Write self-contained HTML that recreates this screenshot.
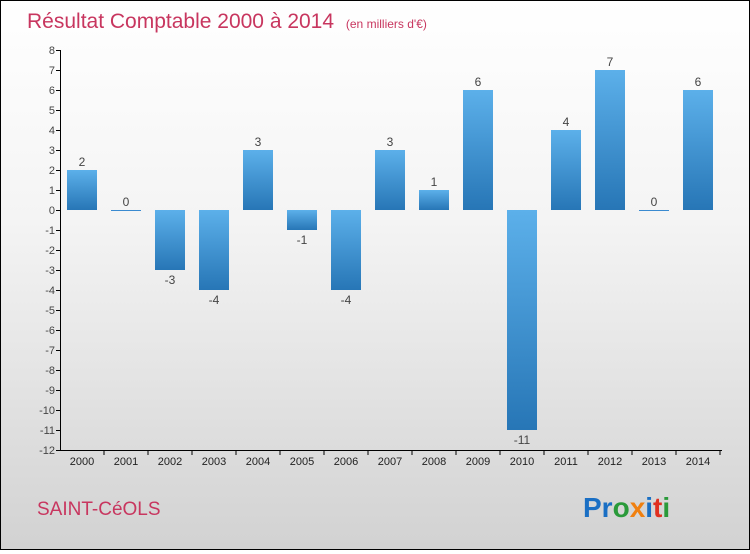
<!DOCTYPE html>
<html><head><meta charset="utf-8"><style>
body{margin:0}
#wrap{width:748px;height:548px;border:1px solid #000;background:linear-gradient(#fff 0%,#f4f4f4 40%,#d2d2d2 100%);position:relative;font-family:"Liberation Sans",sans-serif}
</style></head><body>
<div id="wrap">
<svg width="748" height="548">
<defs>
<linearGradient id="g" x1="0" y1="0" x2="0" y2="1"><stop offset="0" stop-color="#5cb0ea"/><stop offset="1" stop-color="#2776b6"/></linearGradient>
</defs>
<text x="26" y="27" font-size="21" fill="#c8365f">Résultat Comptable 2000 à 2014 <tspan font-size="12" dx="6">(en milliers d'€)</tspan></text>
<g id="axes"></g><g id="bars"></g>
<text x="36" y="514" font-size="19" fill="#c8365f">SAINT-CéOLS</text>
<text x="582" y="516" font-size="28" font-weight="bold"><tspan fill="#1a6fc4">Pr</tspan><tspan fill="#2a9a3a">o</tspan><tspan fill="#f08010">x</tspan><tspan fill="#1a6fc4">i</tspan><tspan fill="#e03020">t</tspan><tspan fill="#2a9a3a">i</tspan></text>
</svg></div>
<script>
const years=["2000","2001","2002","2003","2004","2005","2006","2007","2008","2009","2010","2011","2012","2013","2014"];
const values=[2,0,-3,-4,3,-1,-4,3,1,6,-11,4,7,0,6];
const yTicks=[8,7,6,5,4,3,2,1,0,-1,-2,-3,-4,-5,-6,-7,-8,-9,-10,-11,-12];
const NS="http://www.w3.org/2000/svg";
const y=v=>209-(v)*20;
const x=i=>81+i*44;
function mk(t,a,p){const e=document.createElementNS(NS,t);for(const k in a)e.setAttribute(k,a[k]);p.appendChild(e);return e;}
const ax=document.getElementById('axes'),bg=document.getElementById('bars');
const yl=mk('line',{x1:59.5,x2:59.5,y1:y(8),y2:y(-12),stroke:'#000'},ax);


const xl=mk('line',{x1:59.5,x2:721,y1:y(-12)+0.5,y2:y(-12)+0.5,stroke:'#000'},ax);


yTicks.forEach(v=>{
 mk('line',{x1:55,x2:60,y1:y(v)+.5,y2:y(v)+.5,stroke:'#000'},ax);
 const t=mk('text',{x:54,y:y(v)+4,'font-size':11,'text-anchor':'end',fill:'#444'},ax);t.textContent=v;
 
 
});
years.forEach((yr,i)=>{
 mk('line',{x1:x(i)+22,x2:x(i)+22,y1:y(-12),y2:y(-12)+5,stroke:'#000'},ax);
 const t=mk('text',{x:x(i),y:y(-12)+15,'font-size':11,'text-anchor':'middle',fill:'#222'},ax);t.textContent=yr;
 
 
 const v=values[i];
 const top=Math.min(y(v),y(0)),h=Math.max(Math.abs(y(v)-y(0)),1);
 const r=mk('rect',{x:x(i)-15,y:top,width:30,height:h,fill:v===0?'#3a8ad0':'url(#g)'},bg);
 
 
 const l=mk('text',{x:x(i),y:v>=0?y(v)-4:y(v)+14,'font-size':12,'text-anchor':'middle',fill:'#444'},bg);l.textContent=v;
 
 
});
</script>
</body></html>
